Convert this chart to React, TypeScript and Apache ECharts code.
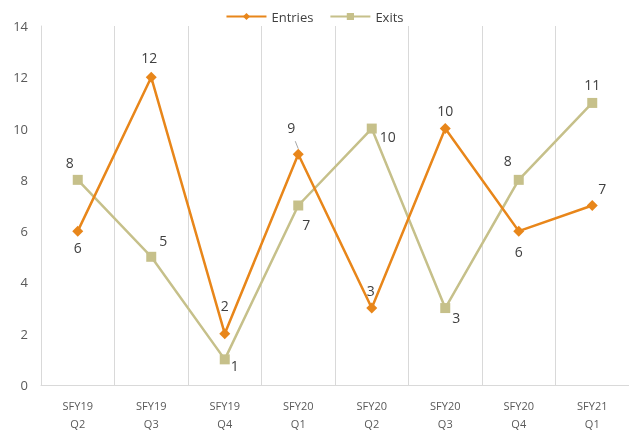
import React, { useEffect, useRef } from "react";
import * as echarts from "echarts";

const categories = ["SFY19\nQ2", "SFY19\nQ3", "SFY19\nQ4", "SFY20\nQ1", "SFY20\nQ2", "SFY20\nQ3", "SFY20\nQ4", "SFY21\nQ1"];
const entries = [6, 12, 2, 9, 3, 10, 6, 7];
const exits = [8, 5, 1, 7, 10, 3, 8, 11];
// label placement per point (offsets in px)
const entryOffsets: [number, number][] = [[0, 16], [-2, -20], [0, -28], [-7, -27], [-1, -18], [0, -18], [0, 20], [10, -17]];
const exitOffsets: [number, number][] = [[-8, -17], [12, -16], [10, 6], [8, 19], [16, 8], [11, 9], [-11, -19], [0, -18]];

const ORANGE = "#E8861A";
const KHAKI = "#C6C08A";

export default function App() {
  const ref = useRef<HTMLDivElement>(null);
  useEffect(() => {
    const chart = echarts.init(ref.current!, null, { renderer: "svg" });
    const mk = (vals: number[], offs: [number, number][]) =>
      vals.map((v, i) => ({
        value: v,
        label: { offset: offs[i] },
        ...(i === 3 && offs === entryOffsets ? { labelLine: { show: true, lineStyle: { color: "#A6A6A6", width: 1 } } } : {}),
      }));
    chart.setOption({
      animation: false,
      textStyle: { fontFamily: "'Open Sans', 'Noto Sans', sans-serif" },
      legend: {
        top: 5,
        left: "center",
        itemWidth: 40,
        itemHeight: 9,
        itemGap: 16,
        textStyle: { fontSize: 13, color: "#404040" },
        data: ["Entries", "Exits"],
      },
      grid: { left: 41, right: 0, top: 26, bottom: 47, containLabel: false },
      xAxis: {
        type: "category",
        data: categories,
        boundaryGap: true,
        axisLine: { show: true, lineStyle: { color: "#D9D9D9" } },
        axisTick: { show: false },
        splitLine: { show: true, lineStyle: { color: "#D9D9D9" } },
        axisLabel: { color: "#595959", fontSize: 11, margin: 11, lineHeight: 18, interval: 0 },
      },
      yAxis: {
        type: "value",
        min: 0,
        max: 14,
        interval: 2,
        axisLine: { show: true, lineStyle: { color: "#D9D9D9" } },
        axisTick: { show: false },
        splitLine: { show: false },
        axisLabel: { color: "#595959", fontSize: 13, margin: 13 },
      },
      series: [
        {
          name: "Entries",
          type: "line",
          data: mk(entries, entryOffsets),
          symbol: "diamond",
          symbolSize: 11,
          itemStyle: { color: ORANGE },
          lineStyle: { color: ORANGE, width: 2.5 },
          label: { show: true, position: "inside", fontSize: 14, color: "#404040" },
          z: 3,
        },
        {
          name: "Exits",
          type: "line",
          data: mk(exits, exitOffsets),
          symbol: "rect",
          symbolSize: 10,
          itemStyle: { color: KHAKI },
          lineStyle: { color: KHAKI, width: 2.5 },
          label: { show: true, position: "inside", fontSize: 14, color: "#404040" },
          z: 2,
        },
      ],
    });
    return () => chart.dispose();
  }, []);
  return <div ref={ref} style={{ position: "fixed", left: 0, top: 0, width: 629, height: 432 }} />;
}
